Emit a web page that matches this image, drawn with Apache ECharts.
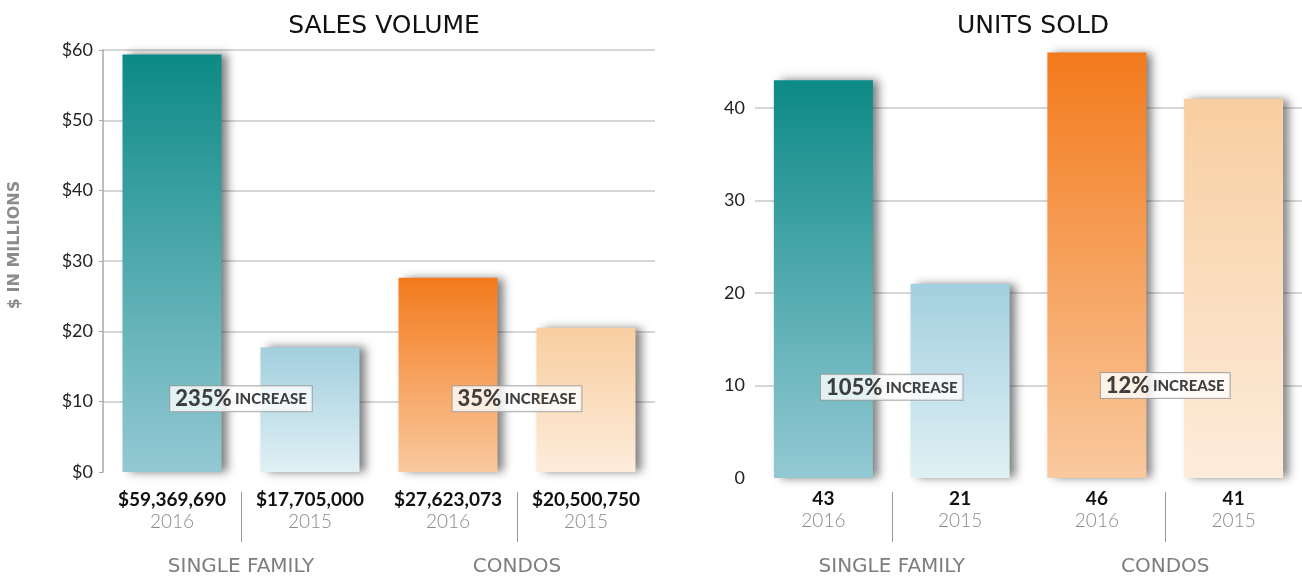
<!DOCTYPE html>
<html>
<head>
<meta charset="utf-8">
<script src="https://cdn.jsdelivr.net/npm/echarts@6/dist/echarts.min.js"></script>
<style>
  html, body { margin: 0; padding: 0; background: #fff; }
  #chart { width: 1302px; height: 580px; }
</style>
</head>
<body>
<div id="chart"></div>
<script>
// data
var years = ['2016', '2015', '2016', '2015'];
var groups = ['SINGLE FAMILY', 'CONDOS'];
var salesVolume = [59369690, 17705000, 27623073, 20500750];
var unitsSold = [43, 21, 46, 41];
var salesIncrease = ['235%', '35%'];
var unitsIncrease = ['105%', '12%'];
var salesTicks = [0, 10, 20, 30, 40, 50, 60];
var unitsTicks = [0, 10, 20, 30, 40];
// bar edges, used only for the thin separators under the axis
var edges = ['', '', '', '', ''];

var FONT = 'Lato';
var WIDE = 'DejaVu Sans';
// top / bottom colours of each bar
var barColors = [
	['#0c8a86', '#94c9d4'],
	['#a2cfde', '#e0f0f5'],
	['#f37a1c', '#f9c99e'],
	['#f8cea0', '#fdecdb']
];

function grad(i) {
	return new echarts.graphic.LinearGradient(0, 0, 0, 1, [
		{ offset: 0, color: barColors[i][0] },
		{ offset: 1, color: barColors[i][1] }
	]);
}

function barData(values) {
	var out = [];
	for (var i = 0; i < values.length; i++) {
		out.push({ value: values[i], itemStyle: { color: grad(i) } });
	}
	return out;
}

function money(v) {
	return '$' + v.toLocaleString('en-US');
}

var chart = echarts.init(document.getElementById('chart'));

var richX = {
	v: { fontFamily: FONT, fontSize: 19, fontWeight: 'bold', color: '#111', lineHeight: 22 },
	y: { fontFamily: FONT, fontSize: 19, fontWeight: 300, color: '#8a8a8a', lineHeight: 22 }
};
var richBox = {
	p: { fontFamily: FONT, fontSize: 22, fontWeight: 900, color: '#111', textBorderWidth: 0 },
	w: { fontFamily: FONT, fontSize: 15, fontWeight: 900, color: '#111', textBorderWidth: 0 }
};

function xAxesFor(gridIndex, labelFn, margin, sepOffset, groupMargin) {
	return [
		{
			type: 'category', gridIndex: gridIndex, data: years, position: 'bottom',
			axisLine: { show: false }, axisTick: { show: false },
			axisLabel: { margin: margin, formatter: labelFn, rich: richX }
		},
		{
			type: 'category', gridIndex: gridIndex, data: edges, boundaryGap: false,
			offset: sepOffset, position: 'bottom',
			axisLine: { show: false },
			axisLabel: { show: false },
			axisTick: {
				show: true, length: 50, inside: false,
				interval: function (i) { return i === 1 || i === 3; },
				lineStyle: { color: '#9a9a9a', width: 1 }
			}
		},
		{
			type: 'category', gridIndex: gridIndex, data: groups, position: 'bottom',
			axisLine: { show: false }, axisTick: { show: false },
			axisLabel: {
				margin: groupMargin, fontFamily: WIDE, fontSize: 20, fontWeight: 'normal',
				color: '#7d7d7d', lineHeight: 20
			}
		},
		{
			type: 'value', gridIndex: gridIndex, min: 0, max: 4, show: false, position: 'bottom'
		}
	];
}

var option = {
	backgroundColor: '#fff',
	animation: false,
	title: [
		{ text: 'SALES VOLUME', left: 379, top: 9, textAlign: 'center',
			textStyle: { fontFamily: WIDE, fontSize: 25, fontWeight: 'normal', color: '#111' } },
		{ text: 'UNITS SOLD', left: 1028, top: 9, textAlign: 'center',
			textStyle: { fontFamily: WIDE, fontSize: 25, fontWeight: 'normal', color: '#111' } }
	],
	grid: [
		{ left: 103, top: 50, width: 552, height: 422, outerBoundsMode: 'none', containLabel: false },
		{ left: 755, top: 15.5, width: 547, height: 462.5, outerBoundsMode: 'none', containLabel: false }
	],
	xAxis: [].concat(
		xAxesFor(0, function (val, i) {
			return '{v|' + money(salesVolume[i]) + '}\n{y|' + years[i] + '}';
		}, 17, 20, 85),
		xAxesFor(1, function (val, i) {
			return '{v|' + unitsSold[i] + '}\n{y|' + years[i] + '}';
		}, 10, 14, 79)
	),
	yAxis: [
		{
			type: 'value', gridIndex: 0, min: salesTicks[0], max: salesTicks[salesTicks.length - 1], interval: 10,
			name: '$ IN MILLIONS', nameLocation: 'middle', nameGap: 80,
			nameTextStyle: { fontFamily: WIDE, fontSize: 16, fontWeight: 'bold', color: '#8c8c8c', padding: [0, 0, 0, 32] },
			axisLine: { show: true, lineStyle: { color: '#a8a8a8', width: 1.5 } },
			axisTick: { show: true, length: 4, lineStyle: { color: '#a8a8a8' } },
			axisLabel: { margin: 10, fontFamily: FONT, fontSize: 18, color: '#222', formatter: '${value}' },
			splitLine: { show: true, showMinLine: false, lineStyle: { color: '#c9c9c9', width: 1.5 } }
		},
		{
			type: 'value', gridIndex: 1, min: unitsTicks[0], max: 50, interval: 10,
			axisLine: { show: false }, axisTick: { show: false },
			axisLabel: { margin: 10, fontFamily: FONT, fontSize: 18, color: '#222', showMaxLabel: false },
			splitLine: { show: true, showMinLine: false, showMaxLine: false, lineStyle: { color: '#c9c9c9', width: 1.5 } }
		}
	],
	series: [
		{
			type: 'bar', xAxisIndex: 0, yAxisIndex: 0, barWidth: 99,
			data: barData(salesVolume.map(function (v) { return v / 1e6; })),
			itemStyle: { shadowColor: 'rgba(40,40,40,0.6)', shadowBlur: 9, shadowOffsetX: 6 }
		},
		{
			type: 'bar', xAxisIndex: 4, yAxisIndex: 1, barWidth: 99,
			data: barData(unitsSold),
			itemStyle: { shadowColor: 'rgba(40,40,40,0.6)', shadowBlur: 9, shadowOffsetX: 6 }
		},
		{
			type: 'scatter', xAxisIndex: 3, yAxisIndex: 0, symbolSize: 1,
			itemStyle: { color: 'rgba(0,0,0,0)' }, z: 5,
			data: [[1, 10.4, salesIncrease[0]], [3, 10.4, salesIncrease[1]]],
			label: {
				show: true, position: 'inside', color: '#111', textBorderWidth: 0,
				formatter: function (p) { return '{p|' + p.data[2] + '} {w|INCREASE}'; },
				rich: richBox, backgroundColor: '#fff', borderColor: '#999', borderWidth: 1,
				padding: [2, 5, 1, 5]
			}
		},
		{
			type: 'scatter', xAxisIndex: 7, yAxisIndex: 1, symbolSize: 1,
			itemStyle: { color: 'rgba(0,0,0,0)' }, z: 5,
			data: [[1, 9.8, unitsIncrease[0]], [3, 10, unitsIncrease[1]]],
			label: {
				show: true, position: 'inside', color: '#111', textBorderWidth: 0,
				formatter: function (p) { return '{p|' + p.data[2] + '} {w|INCREASE}'; },
				rich: richBox, backgroundColor: '#fff', borderColor: '#999', borderWidth: 1,
				padding: [2, 5, 1, 5]
			}
		}
	]
};

chart.setOption(option);
</script>
</body>
</html>
